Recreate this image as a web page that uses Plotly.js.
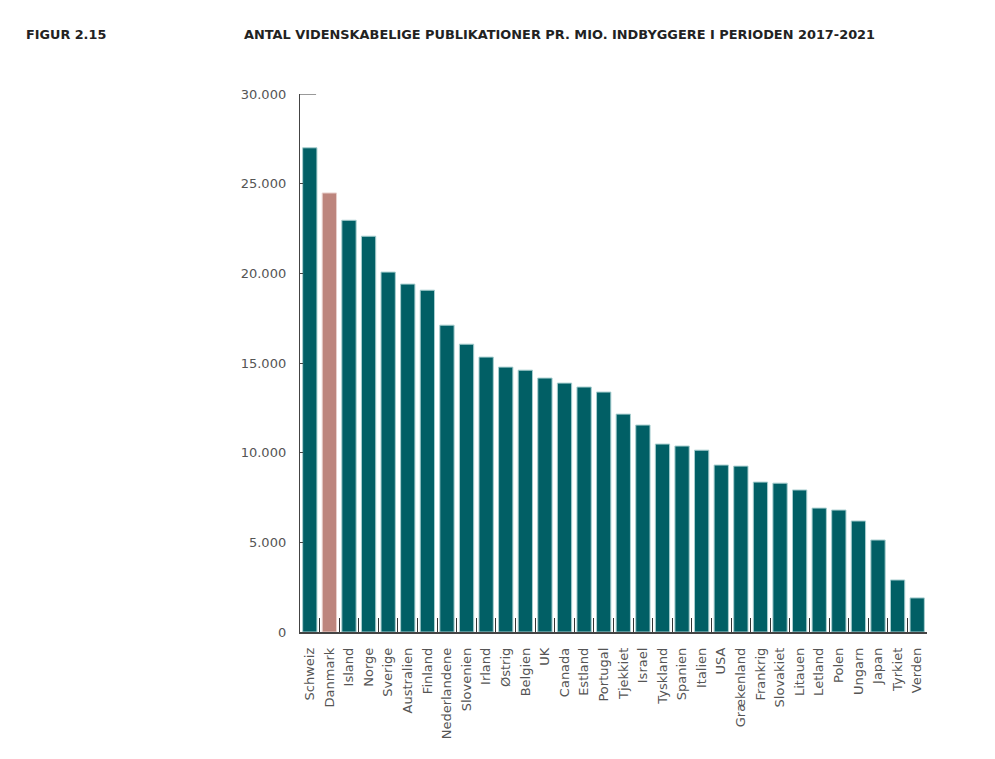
<!DOCTYPE html>
<html>
<head>
<meta charset="utf-8">
<script src="https://cdn.plot.ly/plotly-3.0.1.min.js"></script>
<style>html,body{margin:0;padding:0;background:#fff;}#chart{width:995px;height:759px;}</style>
</head>
<body>
<div id="chart"></div>
<script>
const countries = ["Schweiz","Danmark","Island","Norge","Sverige","Australien","Finland","Nederlandene","Slovenien","Irland","Østrig","Belgien","UK","Canada","Estland","Portugal","Tjekkiet","Israel","Tyskland","Spanien","Italien","USA","Grækenland","Frankrig","Slovakiet","Litauen","Letland","Polen","Ungarn","Japan","Tyrkiet","Verden"];
const publications = [27000,24480,22960,22070,20070,19400,19060,17110,16050,15330,14770,14600,14160,13880,13660,13380,12150,11540,10480,10370,10140,9310,9250,8360,8300,7920,6910,6800,6190,5130,2900,1900];
const highlight = "Danmark";
const yTicks = [0,5000,10000,15000,20000,25000,30000];

const teal = "#015f65", rose = "#bd857d";
const colors = countries.map(c => c === highlight ? rose : teal);
const lineColors = countries.map(c => c === highlight ? "#e8cfcb" : "#a9cfd0");

const trace = {
  type: "bar",
  x: countries,
  y: publications,
  marker: {color: colors, line: {color: lineColors, width: 1}},
  hoverinfo: "x+y"
};

const tickFont = {family: "DejaVu Sans, sans-serif", size: 13, color: "#555"};

const layout = {
  width: 995, height: 759,
  margin: {l: 300, r: 68, t: 94, b: 127},
  paper_bgcolor: "#fff", plot_bgcolor: "#fff",
  separators: ",.",
  bargap: 0.27,
  showlegend: false,
  xaxis: {
    type: "category",
    range: [-0.5, countries.length - 0.5],
    tickangle: -90,
    ticks: "inside", ticklen: 14, tickwidth: 1, tickcolor: "#333",
    tickson: "boundaries",
    showline: true, linecolor: "#444", linewidth: 1.5,
    showgrid: false, zeroline: false,
    tickfont: tickFont,
    ticklabelstandoff: 9
  },
  yaxis: {
    range: [0, 30000],
    tickvals: yTicks,
    tickformat: ",d",
    ticks: "inside", ticklen: 3, tickcolor: "#444",
    showline: true, linecolor: "#444", linewidth: 1.2,
    showgrid: false, zeroline: false,
    tickfont: tickFont,
    ticklabelstandoff: 10
  },
  shapes: [
    {type: "line", xref: "x", yref: "y", x0: -0.5, x1: 0.32, y0: 30000, y1: 30000,
     line: {color: "#555", width: 1.2}}
  ],
  annotations: [
    {text: "<b>FIGUR 2.15</b>", xref: "paper", yref: "paper", x: (24 - 300) / 627, y: 1 + 60/538,
     xanchor: "left", yanchor: "middle", showarrow: false,
     font: {family: "DejaVu Sans, sans-serif", size: 12.8, color: "#222"}},
    {text: "<b>ANTAL VIDENSKABELIGE PUBLIKATIONER PR. MIO. INDBYGGERE I PERIODEN 2017-2021</b>",
     xref: "paper", yref: "paper", x: (242 - 300) / 627, y: 1 + 60/538,
     xanchor: "left", yanchor: "middle", showarrow: false,
     font: {family: "DejaVu Sans, sans-serif", size: 12.9, color: "#222"}}
  ]
};

Plotly.newPlot("chart", [trace], layout, {displayModeBar: false, staticPlot: true});
</script>
</body>
</html>
